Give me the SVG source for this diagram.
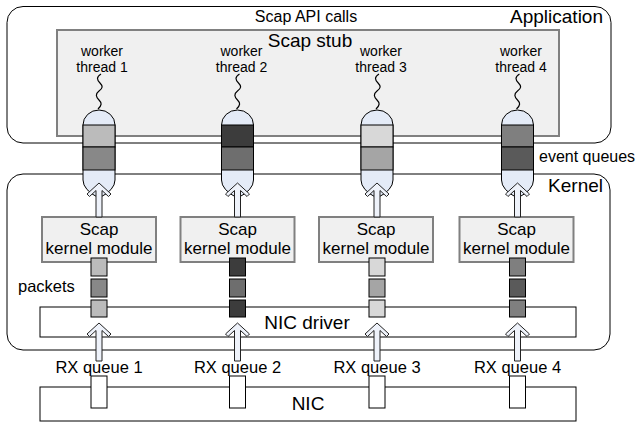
<svg xmlns="http://www.w3.org/2000/svg" width="642" height="426" viewBox="0 0 642 426">
<style>
text{font-family:"Liberation Sans",Arial,sans-serif;fill:#000}
.area{fill:#fff;stroke:#000;stroke-width:1}
.box{fill:#f0f0f0;stroke:#808080;stroke-width:2}
.line{fill:#fff;stroke:#000;stroke-width:1}
.cyl{fill:#e4ebf7;stroke:#000;stroke-width:1}
.blk{stroke:#000;stroke-width:1}
.arrow{fill:#eef2fa;stroke:#222;stroke-width:1;stroke-linejoin:miter}
.wave{fill:none;stroke:#000;stroke-width:1.2}
.pk{stroke:#000;stroke-width:1}
.c1{fill:#bbbbbb}.c1b{fill:#888888}
.c2{fill:#3c3c3c}.c2b{fill:#6e6e6e}
.c3{fill:#d8d8d8}.c3b{fill:#a5a5a5}
.c4{fill:#7f7f7f}.c4b{fill:#5a5a5a}
</style>
<defs>
<path id="cylShape" d="M-16,125 A16,15 0 0 1 16,125 L16,180 Q16,190 0,198 Q-16,190 -16,180 Z"/>
<path id="arrUp" d="M0,0 L12,11 L9.5,13.5 L3,7.5 L3,34 L-3,34 L-3,7.5 L-9.5,13.5 L-12,11 Z"/>
<path id="arrLow" d="M0,0 L12,11 L9.5,13.5 L3,7.5 L3,38 L-3,38 L-3,7.5 L-9.5,13.5 L-12,11 Z"/>
<path id="wavePath" d="M2,74 c-5,3 -4,6 -1,9 c3,3 3,5 -1,8 c-4,3 -3,6 0,9 c3,3 3,5 -1,9"/>
</defs>

<g id="application">
<rect class="area" x="7" y="6.5" width="604" height="136.5" rx="16"/>
<text x="306" y="22" font-size="16" text-anchor="middle">Scap API calls</text>
<text x="603" y="23" font-size="19" text-anchor="end">Application</text>
</g>
<g id="kernel">
<rect class="area" x="7" y="174" width="603" height="176" rx="16"/>
<text x="603" y="192" font-size="19" text-anchor="end">Kernel</text>
</g>
<g id="scap-stub">
<rect class="box" x="57" y="30" width="502" height="106"/>
<text x="310" y="47" font-size="19" text-anchor="middle">Scap stub</text>
</g>

<g id="worker1" transform="translate(99,0)">
<text x="3" y="56" font-size="14" text-anchor="middle">worker</text>
<text x="3" y="72" font-size="14" text-anchor="middle">thread 1</text>
<use href="#wavePath" class="wave"/>
</g>
<g id="worker2" transform="translate(237.5,0)">
<text x="4" y="56" font-size="14" text-anchor="middle">worker</text>
<text x="4" y="72" font-size="14" text-anchor="middle">thread 2</text>
<use href="#wavePath" class="wave"/>
</g>
<g id="worker3" transform="translate(377,0)">
<text x="4" y="56" font-size="14" text-anchor="middle">worker</text>
<text x="4" y="72" font-size="14" text-anchor="middle">thread 3</text>
<use href="#wavePath" class="wave"/>
</g>
<g id="worker4" transform="translate(517.5,0)">
<text x="3.5" y="56" font-size="14" text-anchor="middle">worker</text>
<text x="3.5" y="72" font-size="14" text-anchor="middle">thread 4</text>
<use href="#wavePath" class="wave"/>
</g>

<g id="queue1" transform="translate(99,0)">
<use href="#cylShape" class="cyl"/>
<rect class="blk c1" x="-16" y="125" width="32" height="22"/>
<rect class="blk c1b" x="-16" y="147" width="32" height="23"/>
</g>
<g id="queue2" transform="translate(237.5,0)">
<use href="#cylShape" class="cyl"/>
<rect class="blk c2" x="-16" y="125" width="32" height="22"/>
<rect class="blk c2b" x="-16" y="147" width="32" height="23"/>
</g>
<g id="queue3" transform="translate(377,0)">
<use href="#cylShape" class="cyl"/>
<rect class="blk c3" x="-16" y="125" width="32" height="22"/>
<rect class="blk c3b" x="-16" y="147" width="32" height="23"/>
</g>
<g id="queue4" transform="translate(517.5,0)">
<use href="#cylShape" class="cyl"/>
<rect class="blk c4" x="-16" y="125" width="32" height="22"/>
<rect class="blk c4b" x="-16" y="147" width="32" height="23"/>
</g>
<text x="539" y="162" font-size="16">event queues</text>

<g id="nic-driver">
<rect class="line" x="40" y="307" width="536" height="30"/>
<text x="307" y="329" font-size="19" text-anchor="middle">NIC driver</text>
</g>
<g id="nic">
<rect class="line" x="40" y="387" width="536" height="34"/>
<text x="308" y="410" font-size="19" text-anchor="middle">NIC</text>
</g>

<g id="kmod1" transform="translate(99,0)">
<rect class="box" x="-57" y="217" width="114" height="45"/>
<text x="0" y="235" font-size="17" text-anchor="middle">Scap</text>
<text x="0" y="254" font-size="17" text-anchor="middle">kernel module</text>
</g>
<g id="kmod2" transform="translate(237.5,0)">
<rect class="box" x="-57" y="217" width="114" height="45"/>
<text x="0" y="235" font-size="17" text-anchor="middle">Scap</text>
<text x="0" y="254" font-size="17" text-anchor="middle">kernel module</text>
</g>
<g id="kmod3" transform="translate(376,0)">
<rect class="box" x="-57" y="217" width="114" height="45"/>
<text x="0" y="235" font-size="17" text-anchor="middle">Scap</text>
<text x="0" y="254" font-size="17" text-anchor="middle">kernel module</text>
</g>
<g id="kmod4" transform="translate(516.5,0)">
<rect class="box" x="-57" y="217" width="114" height="45"/>
<text x="0" y="235" font-size="17" text-anchor="middle">Scap</text>
<text x="0" y="254" font-size="17" text-anchor="middle">kernel module</text>
</g>

<text x="18" y="292" font-size="16.5">packets</text>
<g id="packets1" transform="translate(99,0)">
<rect class="pk c1" x="-8" y="258" width="16" height="18"/>
<rect class="pk c1b" x="-8" y="279" width="16" height="18"/>
<rect class="pk c1" x="-8" y="300" width="16" height="17"/>
</g>
<g id="packets2" transform="translate(237.5,0)">
<rect class="pk c2" x="-8" y="258" width="16" height="18"/>
<rect class="pk c2b" x="-8" y="279" width="16" height="18"/>
<rect class="pk c2" x="-8" y="300" width="16" height="17"/>
</g>
<g id="packets3" transform="translate(377,0)">
<rect class="pk c3" x="-8" y="258" width="16" height="18"/>
<rect class="pk c3b" x="-8" y="279" width="16" height="18"/>
<rect class="pk c3" x="-8" y="300" width="16" height="17"/>
</g>
<g id="packets4" transform="translate(517.5,0)">
<rect class="pk c4" x="-8" y="258" width="16" height="18"/>
<rect class="pk c4b" x="-8" y="279" width="16" height="18"/>
<rect class="pk c4" x="-8" y="300" width="16" height="17"/>
</g>

<g id="rxq1" transform="translate(99,0)">
<text x="0" y="373" font-size="16.5" text-anchor="middle">RX queue 1</text>
<rect class="line" x="-8" y="376" width="16" height="32"/>
</g>
<g id="rxq2" transform="translate(237.5,0)">
<text x="0" y="373" font-size="16.5" text-anchor="middle">RX queue 2</text>
<rect class="line" x="-8" y="376" width="16" height="32"/>
</g>
<g id="rxq3" transform="translate(377,0)">
<text x="0" y="373" font-size="16.5" text-anchor="middle">RX queue 3</text>
<rect class="line" x="-8" y="376" width="16" height="32"/>
</g>
<g id="rxq4" transform="translate(517.5,0)">
<text x="0" y="373" font-size="16.5" text-anchor="middle">RX queue 4</text>
<rect class="line" x="-8" y="376" width="16" height="32"/>
</g>

<g id="connectors">
<use href="#arrUp" class="arrow" transform="translate(99,183)"/>
<use href="#arrUp" class="arrow" transform="translate(237.5,183)"/>
<use href="#arrUp" class="arrow" transform="translate(377,183)"/>
<use href="#arrUp" class="arrow" transform="translate(517.5,183)"/>
<use href="#arrLow" class="arrow" transform="translate(99,323)"/>
<use href="#arrLow" class="arrow" transform="translate(237.5,323)"/>
<use href="#arrLow" class="arrow" transform="translate(377,323)"/>
<use href="#arrLow" class="arrow" transform="translate(517.5,323)"/>
</g>
</svg>
